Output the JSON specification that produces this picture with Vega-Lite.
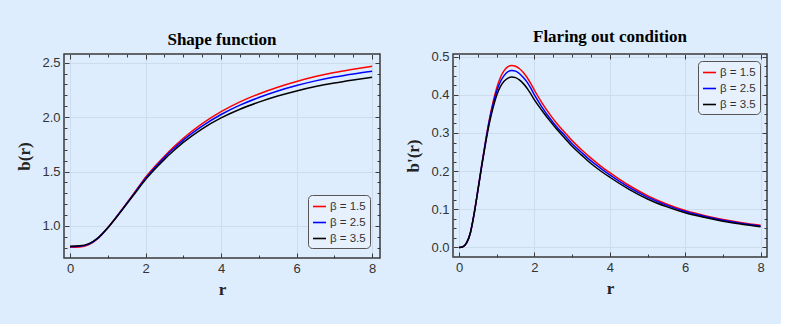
{
  "$schema": "https://vega.github.io/schema/vega-lite/v6.json",
  "background": "#deedfd",
  "padding": {"left": 15, "top": 26, "right": 12, "bottom": 26},
  "spacing": 22,
  "datasets": {
    "shape": [
      {"r": 0, "b": 0.805, "s": "β = 1.5"}, {"r": 0.25, "b": 0.808, "s": "β = 1.5"}, {"r": 0.5, "b": 0.83, "s": "β = 1.5"}, {"r": 0.75, "b": 0.889, "s": "β = 1.5"}, {"r": 1.0, "b": 0.983, "s": "β = 1.5"}, {"r": 1.25, "b": 1.095, "s": "β = 1.5"}, {"r": 1.5, "b": 1.21, "s": "β = 1.5"}, {"r": 1.75, "b": 1.328, "s": "β = 1.5"}, {"r": 2.0, "b": 1.447, "s": "β = 1.5"}, {"r": 2.25, "b": 1.548, "s": "β = 1.5"}, {"r": 2.5, "b": 1.641, "s": "β = 1.5"}, {"r": 2.75, "b": 1.727, "s": "β = 1.5"}, {"r": 3.0, "b": 1.806, "s": "β = 1.5"}, {"r": 3.5, "b": 1.94, "s": "β = 1.5"}, {"r": 4.0, "b": 2.05, "s": "β = 1.5"}, {"r": 4.5, "b": 2.14, "s": "β = 1.5"}, {"r": 5.0, "b": 2.213, "s": "β = 1.5"}, {"r": 5.5, "b": 2.275, "s": "β = 1.5"}, {"r": 6.0, "b": 2.328, "s": "β = 1.5"}, {"r": 6.5, "b": 2.373, "s": "β = 1.5"}, {"r": 7.0, "b": 2.41, "s": "β = 1.5"}, {"r": 7.5, "b": 2.44, "s": "β = 1.5"}, {"r": 8.0, "b": 2.467, "s": "β = 1.5"},
      {"r": 0, "b": 0.81, "s": "β = 2.5"}, {"r": 0.25, "b": 0.813, "s": "β = 2.5"}, {"r": 0.5, "b": 0.834, "s": "β = 2.5"}, {"r": 0.75, "b": 0.891, "s": "β = 2.5"}, {"r": 1.0, "b": 0.983, "s": "β = 2.5"}, {"r": 1.25, "b": 1.092, "s": "β = 2.5"}, {"r": 1.5, "b": 1.206, "s": "β = 2.5"}, {"r": 1.75, "b": 1.322, "s": "β = 2.5"}, {"r": 2.0, "b": 1.437, "s": "β = 2.5"}, {"r": 2.25, "b": 1.538, "s": "β = 2.5"}, {"r": 2.5, "b": 1.63, "s": "β = 2.5"}, {"r": 2.75, "b": 1.712, "s": "β = 2.5"}, {"r": 3.0, "b": 1.789, "s": "β = 2.5"}, {"r": 3.5, "b": 1.918, "s": "β = 2.5"}, {"r": 4.0, "b": 2.024, "s": "β = 2.5"}, {"r": 4.5, "b": 2.11, "s": "β = 2.5"}, {"r": 5.0, "b": 2.18, "s": "β = 2.5"}, {"r": 5.5, "b": 2.24, "s": "β = 2.5"}, {"r": 6.0, "b": 2.29, "s": "β = 2.5"}, {"r": 6.5, "b": 2.333, "s": "β = 2.5"}, {"r": 7.0, "b": 2.368, "s": "β = 2.5"}, {"r": 7.5, "b": 2.397, "s": "β = 2.5"}, {"r": 8.0, "b": 2.422, "s": "β = 2.5"},
      {"r": 0, "b": 0.815, "s": "β = 3.5"}, {"r": 0.25, "b": 0.818, "s": "β = 3.5"}, {"r": 0.5, "b": 0.838, "s": "β = 3.5"}, {"r": 0.75, "b": 0.894, "s": "β = 3.5"}, {"r": 1.0, "b": 0.983, "s": "β = 3.5"}, {"r": 1.25, "b": 1.089, "s": "β = 3.5"}, {"r": 1.5, "b": 1.201, "s": "β = 3.5"}, {"r": 1.75, "b": 1.315, "s": "β = 3.5"}, {"r": 2.0, "b": 1.426, "s": "β = 3.5"}, {"r": 2.25, "b": 1.523, "s": "β = 3.5"}, {"r": 2.5, "b": 1.612, "s": "β = 3.5"}, {"r": 2.75, "b": 1.693, "s": "β = 3.5"}, {"r": 3.0, "b": 1.768, "s": "β = 3.5"}, {"r": 3.5, "b": 1.893, "s": "β = 3.5"}, {"r": 4.0, "b": 1.993, "s": "β = 3.5"}, {"r": 4.5, "b": 2.073, "s": "β = 3.5"}, {"r": 5.0, "b": 2.138, "s": "β = 3.5"}, {"r": 5.5, "b": 2.194, "s": "β = 3.5"}, {"r": 6.0, "b": 2.241, "s": "β = 3.5"}, {"r": 6.5, "b": 2.281, "s": "β = 3.5"}, {"r": 7.0, "b": 2.314, "s": "β = 3.5"}, {"r": 7.5, "b": 2.342, "s": "β = 3.5"}, {"r": 8.0, "b": 2.367, "s": "β = 3.5"}
    ],
    "flare": [
      {"r": 0, "d": 0, "s": "β = 1.5"}, {"r": 0.1, "d": 0.002, "s": "β = 1.5"}, {"r": 0.2, "d": 0.012, "s": "β = 1.5"}, {"r": 0.3, "d": 0.038, "s": "β = 1.5"}, {"r": 0.4, "d": 0.088, "s": "β = 1.5"}, {"r": 0.5, "d": 0.15, "s": "β = 1.5"}, {"r": 0.6, "d": 0.215, "s": "β = 1.5"}, {"r": 0.7, "d": 0.277, "s": "β = 1.5"}, {"r": 0.8, "d": 0.333, "s": "β = 1.5"}, {"r": 0.9, "d": 0.38, "s": "β = 1.5"}, {"r": 1.0, "d": 0.418, "s": "β = 1.5"}, {"r": 1.1, "d": 0.446, "s": "β = 1.5"}, {"r": 1.2, "d": 0.464, "s": "β = 1.5"}, {"r": 1.3, "d": 0.474, "s": "β = 1.5"}, {"r": 1.4, "d": 0.477, "s": "β = 1.5"}, {"r": 1.5, "d": 0.475, "s": "β = 1.5"}, {"r": 1.6, "d": 0.469, "s": "β = 1.5"}, {"r": 1.7, "d": 0.459, "s": "β = 1.5"}, {"r": 1.8, "d": 0.446, "s": "β = 1.5"}, {"r": 1.9, "d": 0.43, "s": "β = 1.5"}, {"r": 2.0, "d": 0.412, "s": "β = 1.5"}, {"r": 2.2, "d": 0.379, "s": "β = 1.5"}, {"r": 2.4, "d": 0.35, "s": "β = 1.5"}, {"r": 2.6, "d": 0.324, "s": "β = 1.5"}, {"r": 2.8, "d": 0.302, "s": "β = 1.5"}, {"r": 3.0, "d": 0.28, "s": "β = 1.5"}, {"r": 3.25, "d": 0.256, "s": "β = 1.5"}, {"r": 3.5, "d": 0.234, "s": "β = 1.5"}, {"r": 3.75, "d": 0.214, "s": "β = 1.5"}, {"r": 4.0, "d": 0.196, "s": "β = 1.5"}, {"r": 4.5, "d": 0.163, "s": "β = 1.5"}, {"r": 5.0, "d": 0.136, "s": "β = 1.5"}, {"r": 5.5, "d": 0.114, "s": "β = 1.5"}, {"r": 6.0, "d": 0.097, "s": "β = 1.5"}, {"r": 6.5, "d": 0.084, "s": "β = 1.5"}, {"r": 7.0, "d": 0.0735, "s": "β = 1.5"}, {"r": 7.5, "d": 0.065, "s": "β = 1.5"}, {"r": 8.0, "d": 0.058, "s": "β = 1.5"},
      {"r": 0, "d": 0, "s": "β = 2.5"}, {"r": 0.1, "d": 0.002, "s": "β = 2.5"}, {"r": 0.2, "d": 0.012, "s": "β = 2.5"}, {"r": 0.3, "d": 0.038, "s": "β = 2.5"}, {"r": 0.4, "d": 0.088, "s": "β = 2.5"}, {"r": 0.5, "d": 0.15, "s": "β = 2.5"}, {"r": 0.6, "d": 0.214, "s": "β = 2.5"}, {"r": 0.7, "d": 0.275, "s": "β = 2.5"}, {"r": 0.8, "d": 0.33, "s": "β = 2.5"}, {"r": 0.9, "d": 0.374, "s": "β = 2.5"}, {"r": 1.0, "d": 0.41, "s": "β = 2.5"}, {"r": 1.1, "d": 0.435, "s": "β = 2.5"}, {"r": 1.2, "d": 0.451, "s": "β = 2.5"}, {"r": 1.3, "d": 0.461, "s": "β = 2.5"}, {"r": 1.4, "d": 0.464, "s": "β = 2.5"}, {"r": 1.5, "d": 0.462, "s": "β = 2.5"}, {"r": 1.6, "d": 0.456, "s": "β = 2.5"}, {"r": 1.7, "d": 0.446, "s": "β = 2.5"}, {"r": 1.8, "d": 0.434, "s": "β = 2.5"}, {"r": 1.9, "d": 0.418, "s": "β = 2.5"}, {"r": 2.0, "d": 0.4, "s": "β = 2.5"}, {"r": 2.2, "d": 0.368, "s": "β = 2.5"}, {"r": 2.4, "d": 0.34, "s": "β = 2.5"}, {"r": 2.6, "d": 0.315, "s": "β = 2.5"}, {"r": 2.8, "d": 0.294, "s": "β = 2.5"}, {"r": 3.0, "d": 0.272, "s": "β = 2.5"}, {"r": 3.25, "d": 0.249, "s": "β = 2.5"}, {"r": 3.5, "d": 0.227, "s": "β = 2.5"}, {"r": 3.75, "d": 0.208, "s": "β = 2.5"}, {"r": 4.0, "d": 0.19, "s": "β = 2.5"}, {"r": 4.5, "d": 0.158, "s": "β = 2.5"}, {"r": 5.0, "d": 0.132, "s": "β = 2.5"}, {"r": 5.5, "d": 0.111, "s": "β = 2.5"}, {"r": 6.0, "d": 0.094, "s": "β = 2.5"}, {"r": 6.5, "d": 0.082, "s": "β = 2.5"}, {"r": 7.0, "d": 0.0714, "s": "β = 2.5"}, {"r": 7.5, "d": 0.063, "s": "β = 2.5"}, {"r": 8.0, "d": 0.0563, "s": "β = 2.5"},
      {"r": 0, "d": 0, "s": "β = 3.5"}, {"r": 0.1, "d": 0.002, "s": "β = 3.5"}, {"r": 0.2, "d": 0.012, "s": "β = 3.5"}, {"r": 0.3, "d": 0.038, "s": "β = 3.5"}, {"r": 0.4, "d": 0.088, "s": "β = 3.5"}, {"r": 0.5, "d": 0.149, "s": "β = 3.5"}, {"r": 0.6, "d": 0.212, "s": "β = 3.5"}, {"r": 0.7, "d": 0.27, "s": "β = 3.5"}, {"r": 0.8, "d": 0.323, "s": "β = 3.5"}, {"r": 0.9, "d": 0.365, "s": "β = 3.5"}, {"r": 1.0, "d": 0.399, "s": "β = 3.5"}, {"r": 1.1, "d": 0.422, "s": "β = 3.5"}, {"r": 1.2, "d": 0.436, "s": "β = 3.5"}, {"r": 1.3, "d": 0.444, "s": "β = 3.5"}, {"r": 1.4, "d": 0.447, "s": "β = 3.5"}, {"r": 1.5, "d": 0.445, "s": "β = 3.5"}, {"r": 1.6, "d": 0.439, "s": "β = 3.5"}, {"r": 1.7, "d": 0.43, "s": "β = 3.5"}, {"r": 1.8, "d": 0.418, "s": "β = 3.5"}, {"r": 1.9, "d": 0.403, "s": "β = 3.5"}, {"r": 2.0, "d": 0.387, "s": "β = 3.5"}, {"r": 2.2, "d": 0.359, "s": "β = 3.5"}, {"r": 2.4, "d": 0.333, "s": "β = 3.5"}, {"r": 2.6, "d": 0.309, "s": "β = 3.5"}, {"r": 2.8, "d": 0.287, "s": "β = 3.5"}, {"r": 3.0, "d": 0.265, "s": "β = 3.5"}, {"r": 3.25, "d": 0.242, "s": "β = 3.5"}, {"r": 3.5, "d": 0.22, "s": "β = 3.5"}, {"r": 3.75, "d": 0.201, "s": "β = 3.5"}, {"r": 4.0, "d": 0.184, "s": "β = 3.5"}, {"r": 4.5, "d": 0.153, "s": "β = 3.5"}, {"r": 5.0, "d": 0.127, "s": "β = 3.5"}, {"r": 5.5, "d": 0.107, "s": "β = 3.5"}, {"r": 6.0, "d": 0.091, "s": "β = 3.5"}, {"r": 6.5, "d": 0.079, "s": "β = 3.5"}, {"r": 7.0, "d": 0.0688, "s": "β = 3.5"}, {"r": 7.5, "d": 0.061, "s": "β = 3.5"}, {"r": 8.0, "d": 0.0543, "s": "β = 3.5"}
    ]
  },
  "resolve": {"scale": {"color": "independent"}, "legend": {"color": "independent"}},
  "hconcat": [
    {
      "width": 316,
      "height": 204,
      "title": {"text": "Shape function"},
      "data": {"name": "shape"},
      "layer": [
        {
          "mark": {"type": "line", "strokeWidth": 1.5, "interpolate": "monotone"},
          "encoding": {
            "x": {"field": "r", "type": "quantitative", "scale": {"domain": [-0.16, 8.21], "nice": false, "zero": false},
              "axis": {"orient": "bottom", "title": "r", "values": [0,0.5,1,1.5,2,2.5,3,3.5,4,4.5,5,5.5,6,6.5,7,7.5,8], "format": "d",
                "labelExpr": "datum.value % 2 === 0 ? datum.label : ''",
                "tickSize": {"condition": {"test": "datum.value % 2 === 0", "value": -5}, "value": -3},
                "gridOpacity": {"condition": {"test": "datum.value % 2 === 0", "value": 1}, "value": 0}}},
            "y": {"field": "b", "type": "quantitative", "scale": {"domain": [0.706, 2.58], "nice": false, "zero": false},
              "axis": {"orient": "left", "title": "b(r)", "values": [0.8,0.9,1,1.1,1.2,1.3,1.4,1.5,1.6,1.7,1.8,1.9,2,2.1,2.2,2.3,2.4,2.5], "format": ".1f",
                "labelExpr": "abs(datum.value*2 - round(datum.value*2)) < 0.001 ? datum.label : ''",
                "tickSize": {"condition": {"test": "abs(datum.value*2 - round(datum.value*2)) < 0.001", "value": -5}, "value": -3},
                "gridOpacity": {"condition": {"test": "abs(datum.value*2 - round(datum.value*2)) < 0.001", "value": 1}, "value": 0}}},
            "color": {"field": "s", "type": "nominal", "scale": {"domain": ["β = 1.5", "β = 2.5", "β = 3.5"], "range": ["#ff0000", "#0000ff", "#000000"]},
              "legend": {"orient": "bottom-right", "offset": 10}}
          }
        },
        {
          "mark": {"type": "point", "opacity": 0},
          "encoding": {
            "x": {"field": "r", "type": "quantitative",
              "axis": {"orient": "top", "title": null, "labels": false, "grid": false, "values": [0,0.5,1,1.5,2,2.5,3,3.5,4,4.5,5,5.5,6,6.5,7,7.5,8],
                "tickSize": {"condition": {"test": "datum.value % 2 === 0", "value": -5}, "value": -3}}},
            "y": {"field": "b", "type": "quantitative",
              "axis": {"orient": "right", "title": null, "labels": false, "grid": false, "values": [0.8,0.9,1,1.1,1.2,1.3,1.4,1.5,1.6,1.7,1.8,1.9,2,2.1,2.2,2.3,2.4,2.5],
                "tickSize": {"condition": {"test": "abs(datum.value*2 - round(datum.value*2)) < 0.001", "value": -5}, "value": -3}}}
          }
        }
      ],
      "resolve": {"axis": {"x": "independent", "y": "independent"}}
    },
    {
      "width": 314,
      "height": 203,
      "title": {"text": "Flaring out condition"},
      "data": {"name": "flare"},
      "layer": [
        {
          "mark": {"type": "line", "strokeWidth": 1.5, "interpolate": "monotone"},
          "encoding": {
            "x": {"field": "r", "type": "quantitative", "scale": {"domain": [-0.16, 8.17], "nice": false, "zero": false},
              "axis": {"orient": "bottom", "title": "r", "values": [0,0.5,1,1.5,2,2.5,3,3.5,4,4.5,5,5.5,6,6.5,7,7.5,8], "format": "d",
                "labelExpr": "datum.value % 2 === 0 ? datum.label : ''",
                "tickSize": {"condition": {"test": "datum.value % 2 === 0", "value": -5}, "value": -3},
                "gridOpacity": {"condition": {"test": "datum.value % 2 === 0", "value": 1}, "value": 0}}},
            "y": {"field": "d", "type": "quantitative", "scale": {"domain": [-0.025, 0.507], "nice": false, "zero": false},
              "axis": {"orient": "left", "title": "b'(r)", "values": [0,0.025,0.05,0.075,0.1,0.125,0.15,0.175,0.2,0.225,0.25,0.275,0.3,0.325,0.35,0.375,0.4,0.425,0.45,0.475,0.5], "format": ".1f",
                "labelExpr": "abs(datum.value*10 - round(datum.value*10)) < 0.001 ? datum.label : ''",
                "tickSize": {"condition": {"test": "abs(datum.value*10 - round(datum.value*10)) < 0.001", "value": -5}, "value": -3},
                "gridOpacity": {"condition": {"test": "abs(datum.value*10 - round(datum.value*10)) < 0.001", "value": 1}, "value": 0}}},
            "color": {"field": "s", "type": "nominal", "scale": {"domain": ["β = 1.5", "β = 2.5", "β = 3.5"], "range": ["#ff0000", "#0000ff", "#000000"]},
              "legend": {"orient": "top-right", "offset": 7}}
          }
        },
        {
          "mark": {"type": "point", "opacity": 0},
          "encoding": {
            "x": {"field": "r", "type": "quantitative",
              "axis": {"orient": "top", "title": null, "labels": false, "grid": false, "values": [0,0.5,1,1.5,2,2.5,3,3.5,4,4.5,5,5.5,6,6.5,7,7.5,8],
                "tickSize": {"condition": {"test": "datum.value % 2 === 0", "value": -5}, "value": -3}}},
            "y": {"field": "d", "type": "quantitative",
              "axis": {"orient": "right", "title": null, "labels": false, "grid": false, "values": [0,0.025,0.05,0.075,0.1,0.125,0.15,0.175,0.2,0.225,0.25,0.275,0.3,0.325,0.35,0.375,0.4,0.425,0.45,0.475,0.5],
                "tickSize": {"condition": {"test": "abs(datum.value*10 - round(datum.value*10)) < 0.001", "value": -5}, "value": -3}}}
          }
        }
      ],
      "resolve": {"axis": {"x": "independent", "y": "independent"}}
    }
  ],
  "config": {
    "view": {"stroke": "#3a3a3a", "strokeWidth": 1.5, "fill": "#deedfd"},
    "title": {"font": "Liberation Serif", "fontSize": 17, "fontWeight": "bold", "color": "#000000", "offset": 5},
    "axis": {
      "domain": false,
      "tickColor": "#3a3a3a",
      "tickWidth": 1,
      "labelFont": "Liberation Sans",
      "labelFontSize": 13,
      "labelColor": "#333333",
      "labelPadding": 9,
      "gridColor": "#cddcec",
      "gridWidth": 1,
      "titleFont": "Liberation Serif",
      "titleFontSize": 17,
      "titleFontWeight": "bold",
      "titleColor": "#222222"
    },
    "axisX": {"titlePadding": 6},
    "axisY": {"titlePadding": 8},
    "legend": {
      "title": null,
      "symbolType": "stroke",
      "symbolSize": 170,
      "symbolStrokeWidth": 1.6,
      "labelFont": "Liberation Sans",
      "labelFontSize": 11.5,
      "labelColor": "#333333",
      "fillColor": "#e6f1fd",
      "strokeColor": "#555555",
      "cornerRadius": 4,
      "padding": 4,
      "rowPadding": 3,
      "labelOffset": 3
    }
  }
}
